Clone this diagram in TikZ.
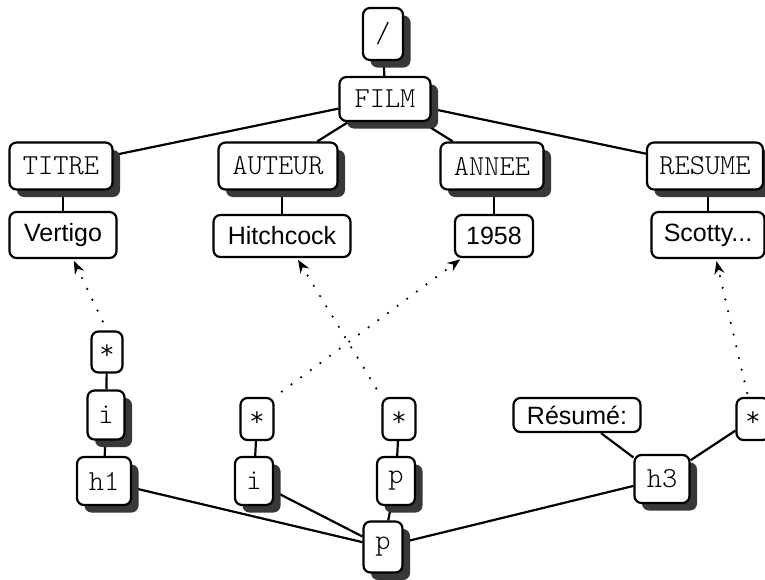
\documentclass[tikz,border=0pt]{standalone}
\usepackage{fontspec}
\setsansfont{Liberation Sans}
\setmonofont{Latin Modern Mono Light}
\usetikzlibrary{shadows,arrows.meta,calc,backgrounds}
\begin{document}
\begin{tikzpicture}[x=1pt,y=-1pt,
  box/.style={draw, line width=2.2pt, rounded corners=7pt, fill=white, inner sep=0pt, align=center},
  shad/.style={drop shadow={shadow xshift=7.5pt, shadow yshift=-7.5pt, fill=black!78, draw=none, opacity=1, fill opacity=1}},
  elem/.style={box, shad, font=\ttfamily\fontsize{29}{30}\selectfont},
  star/.style={box, font=\ttfamily\fontsize{29}{30}\selectfont, minimum width=33pt, minimum height=42pt},
  txt/.style={box, font=\sffamily\fontsize{25}{28}\selectfont},
  wh/.style 2 args={minimum width=#1pt, minimum height=#2pt},
  link/.style={line width=2.2pt},
  ref/.style={line width=2.4pt, line cap=round, dash pattern=on 0pt off 12pt, -{Stealth[length=13pt,width=10pt]}}
]
\useasboundingbox (0,0) rectangle (765,579);

% element nodes
\node[elem, wh={40}{52}] (slash) at (383,34) {/};
\node[elem, wh={91}{44}] (film) at (385,99) {FILM};
\node[elem, wh={103}{47}] (titre) at (61,166) {TITRE};
\node[elem, wh={119}{47}] (auteur) at (278,166) {AUTEUR};
\node[elem, wh={103}{47}] (annee) at (492,166) {ANNEE};
\node[elem, wh={116}{47}] (resume) at (705,166) {RESUME};

% text nodes
\node[txt, wh={107}{46}] (vertigo) at (63,235) {Vertigo};
\node[txt, wh={137}{42}] (hitch) at (282,236) {Hitchcock};
\node[txt, wh={78}{42}] (y1958) at (494,236) {1958};
\node[txt, wh={113}{46}] (scotty) at (708,235) {Scotty...};

% lower tree
\node[star, minimum width=31pt, minimum height=41pt] (star1) at (107,352) {*};
\node[elem, wh={37}{49}] (i1) at (106,415) {i};
\node[elem, wh={54}{48}] (h1) at (104,481) {h1};
\node[star] (star2) at (257,419) {*};
\node[elem, wh={38}{48}] (i2) at (254,481) {i};
\node[star] (star3) at (399,419) {*};
\node[elem, wh={38}{48}] (p1) at (396,481) {p};
\node[elem, wh={39}{51}] (pb) at (383,547) {p};
\node[txt, wh={127}{34}] (resumetxt) at (577,415) {Résumé:};
\node[elem, wh={55}{48}] (h3) at (662,479) {h3};
\node[star] (star4) at (753,419) {*};

% solid connectors (behind nodes and shadows)
\begin{pgfonlayer}{background}
\begin{scope}[link]
\draw (slash) -- (film);
\draw (film) -- (titre);
\draw (film) -- (auteur);
\draw (film) -- (annee);
\draw (film) -- (resume);
\draw (vertigo.north) -- (vertigo.north |- titre.south);
\draw (hitch.north) -- (hitch.north |- auteur.south);
\draw (y1958.north) -- (y1958.north |- annee.south);
\draw (scotty.north) -- (scotty.north |- resume.south);
\draw (star1) -- (i1);
\draw (i1) -- (h1);
\draw (star2) -- (i2);
\draw (star3) -- (p1);
\draw (h1) -- (pb);
\draw (i2) -- (pb);
\draw (p1) -- (pb);
\draw (pb) -- (h3);
\draw (h3) -- (resumetxt);
\draw (h3) -- (star4);
\end{scope}
\end{pgfonlayer}

% dotted reference arrows
\draw[ref, shorten <=10pt, shorten >=2pt] (star1.north) -- ([xshift=10pt]vertigo.south);
\draw[ref, shorten <=9pt, shorten >=2pt] (star2.north east) -- ([xshift=8pt]y1958.south west);
\draw[ref, shorten <=10pt, shorten >=2pt] (star3.north west) -- ([xshift=15pt]hitch.south);
\draw[ref, shorten <=4pt, shorten >=2pt] ([xshift=-5pt]star4.north) -- ([xshift=8pt]scotty.south);
\end{tikzpicture}
\end{document}
